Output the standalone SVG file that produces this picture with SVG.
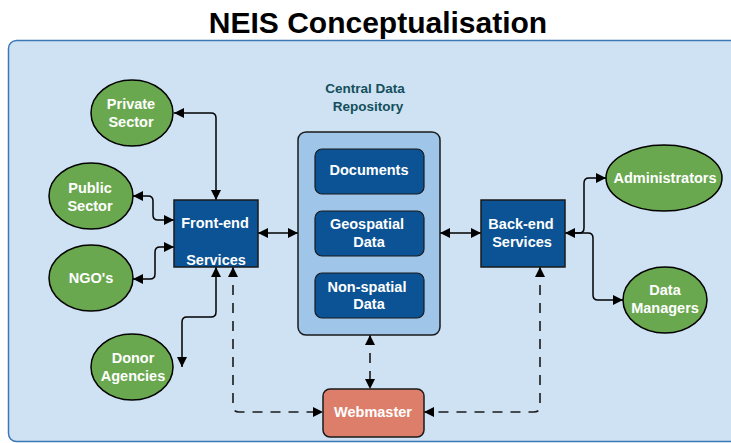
<svg xmlns="http://www.w3.org/2000/svg" width="731" height="443" viewBox="0 0 731 443">
  <defs>
    <marker id="arrow" viewBox="0 0 10 10" refX="10" refY="5" markerWidth="10" markerHeight="10" markerUnits="userSpaceOnUse" orient="auto-start-reverse">
      <path d="M0,0 L10,5 L0,10 Z" fill="#000"/>
    </marker>
  </defs>
  <style>
    .title { font-family: "Liberation Sans", Arial, sans-serif; font-weight: bold; font-size: 30px; fill: #000; }
    .lbl { font-family: "Liberation Sans", Arial, sans-serif; font-weight: bold; font-size: 14.5px; fill: #fff; text-anchor: middle; }
    .cap { font-family: "Liberation Sans", Arial, sans-serif; font-weight: bold; font-size: 13.5px; fill: #134f5c; text-anchor: middle; }
    .actor { fill: #6aa84f; stroke: #000; stroke-width: 1.5; }
    .svc { fill: #0b5394; stroke: #1a1a1a; stroke-width: 1.5; }
    .repo { fill: #9fc5e8; stroke: #1a1a1a; stroke-width: 1.5; }
    .store { fill: #0b5394; stroke: #1a1a1a; stroke-width: 1.2; }
    .web { fill: #dd7e6b; stroke: #1a1a1a; stroke-width: 1.5; }
    .link { fill: none; stroke: #000; stroke-width: 1.5; }
    .dash { fill: none; stroke: #1a1a1a; stroke-width: 1.6; stroke-dasharray: 10 8; }
  </style>

  <!-- page and frame -->
  <rect x="0" y="0" width="731" height="443" fill="#fff"/>
  <rect x="8.5" y="40.5" width="740" height="401" rx="8" fill="#cfe2f3" stroke="#3d78b5" stroke-width="1.5"/>
  <text class="title" x="378" y="33" text-anchor="middle">NEIS Conceptualisation</text>

  <!-- connectors -->
  <g id="connectors">
    <path class="link" d="M174,113 H211 Q216,113 216,118 V200" marker-start="url(#arrow)" marker-end="url(#arrow)"/>
    <path class="link" d="M133,196 H148 Q153,196 153,201 V215 Q153,220 158,220 H174" marker-start="url(#arrow)" marker-end="url(#arrow)"/>
    <path class="link" d="M174,247 H160 Q155,247 155,252 V274 Q155,279 150,279 H133" marker-start="url(#arrow)" marker-end="url(#arrow)"/>
    <path class="link" d="M216,267 V312 Q216,317 211,317 H187 Q182,317 182,322 V367" marker-start="url(#arrow)" marker-end="url(#arrow)"/>
    <path class="link" d="M258,233 H298" marker-start="url(#arrow)" marker-end="url(#arrow)"/>
    <path class="link" d="M440,233 H481" marker-start="url(#arrow)" marker-end="url(#arrow)"/>
    <path class="link" d="M565,233 H579 Q584,233 584,228 V183 Q584,178 589,178 H606" marker-start="url(#arrow)" marker-end="url(#arrow)"/>
    <path class="link" d="M575,233 H588 Q593,233 593,238 V295 Q593,300 598,300 H623" marker-end="url(#arrow)"/>
    <path class="dash" d="M233,267 V406 Q233,412 239,412 H323" marker-start="url(#arrow)" marker-end="url(#arrow)"/>
    <path class="dash" d="M540,267 V406 Q540,412 534,412 H424" marker-start="url(#arrow)" marker-end="url(#arrow)"/>
    <path class="dash" d="M370,335 V389" stroke-dasharray="14 14 40" marker-start="url(#arrow)" marker-end="url(#arrow)"/>
  </g>

  <!-- stakeholders -->
  <g id="private-sector">
    <ellipse class="actor" cx="132" cy="113" rx="41" ry="33"/>
    <text class="lbl" x="131" y="109">Private</text>
    <text class="lbl" x="131" y="127">Sector</text>
  </g>
  <g id="public-sector">
    <ellipse class="actor" cx="91" cy="196" rx="42" ry="33"/>
    <text class="lbl" x="90" y="193">Public</text>
    <text class="lbl" x="90" y="211">Sector</text>
  </g>
  <g id="ngos">
    <ellipse class="actor" cx="91" cy="278" rx="42" ry="33"/>
    <text class="lbl" x="91" y="283">NGO's</text>
  </g>
  <g id="donor-agencies">
    <ellipse class="actor" cx="132" cy="367" rx="41" ry="33"/>
    <text class="lbl" x="133" y="363">Donor</text>
    <text class="lbl" x="133" y="381">Agencies</text>
  </g>
  <g id="administrators">
    <ellipse class="actor" cx="664" cy="178" rx="58" ry="33"/>
    <text class="lbl" x="665" y="183">Administrators</text>
  </g>
  <g id="data-managers">
    <ellipse class="actor" cx="665" cy="300" rx="42" ry="33"/>
    <text class="lbl" x="665" y="295">Data</text>
    <text class="lbl" x="665" y="313">Managers</text>
  </g>

  <!-- services -->
  <g id="front-end">
    <rect class="svc" x="174" y="200" width="84" height="67"/>
    <text class="lbl" x="215" y="228">Front-end</text>
    <text class="lbl" x="216" y="265">Services</text>
  </g>
  <g id="back-end">
    <rect class="svc" x="481" y="200" width="84" height="67"/>
    <text class="lbl" x="521" y="229">Back-end</text>
    <text class="lbl" x="522" y="247">Services</text>
  </g>

  <!-- repository -->
  <g id="central-data-repository">
    <text class="cap" x="365" y="93">Central Data</text>
    <text class="cap" x="368" y="111">Repository</text>
    <rect class="repo" x="298" y="132" width="142" height="203" rx="8"/>
    <rect class="store" x="315" y="149" width="109" height="45" rx="7"/>
    <text class="lbl" x="369" y="175">Documents</text>
    <rect class="store" x="315" y="211" width="109" height="45" rx="7"/>
    <text class="lbl" x="367" y="229">Geospatial</text>
    <text class="lbl" x="369" y="247">Data</text>
    <rect class="store" x="315" y="273" width="109" height="45" rx="7"/>
    <text class="lbl" x="367" y="292">Non-spatial</text>
    <text class="lbl" x="369" y="309">Data</text>
  </g>

  <!-- maintenance -->
  <g id="webmaster">
    <rect class="web" x="323" y="389" width="101" height="48" rx="7"/>
    <text class="lbl" x="373" y="417">Webmaster</text>
  </g>
</svg>
